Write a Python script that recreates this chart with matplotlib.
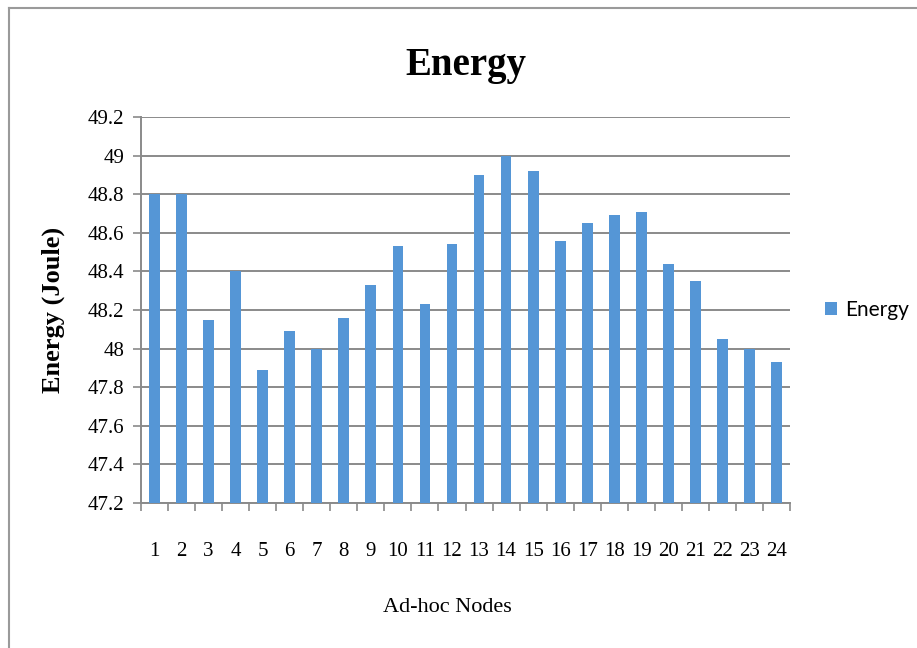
import numpy as np
import matplotlib
matplotlib.use("Agg")
import matplotlib.pyplot as plt
from matplotlib.lines import Line2D

# energy left in each ad-hoc node (Joule)
nodes = [str(i) for i in range(1, 25)]
energy = [48.80, 48.80, 48.15, 48.40, 47.89, 48.09, 48.00, 48.16,
          48.33, 48.53, 48.23, 48.54, 48.90, 49.00, 48.92, 48.56,
          48.65, 48.69, 48.71, 48.44, 48.35, 48.05, 48.00, 47.93]
y_ticks = [47.2, 47.4, 47.6, 47.8, 48.0, 48.2, 48.4, 48.6, 48.8, 49.0, 49.2]
y_tick_labels = ["47.2", "47.4", "47.6", "47.8", "48", "48.2", "48.4",
                 "48.6", "48.8", "49", "49.2"]

bar_color = "#5596D6"
grid_color = "#8a8a8a"
serif = "Liberation Serif"

fig = plt.figure(figsize=(9.17, 6.48), dpi=100)
ax = fig.add_axes([0.1538, 0.2238, 0.7077, 0.5956])

x = np.arange(len(nodes))
ax.bar(x, energy, width=0.4, color=bar_color, zorder=3, label="Energy")
ax.set_ylim(47.2, 49.2)
ax.set_xlim(-0.5, len(nodes) - 0.5)

ax.set_yticks(y_ticks)
ax.set_yticklabels(y_tick_labels, fontfamily=serif, fontsize=15)
ax.yaxis.grid(True, color=grid_color, linewidth=1.4, zorder=0)

# category labels without marks, marks between categories
ax.set_xticks(x)
ax.set_xticklabels(nodes, fontfamily=serif, fontsize=15)
ax.tick_params(axis="x", which="major", length=0, pad=28)
ax.set_xticks(np.arange(-0.5, len(nodes)), minor=True)
ax.tick_params(axis="x", which="minor", length=6, color=grid_color, width=1.2)
ax.tick_params(axis="y", length=6, color=grid_color, width=1.2, pad=6)

for side in ("top", "right"):
    ax.spines[side].set_visible(False)
for side in ("left", "bottom"):
    ax.spines[side].set_color(grid_color)
    ax.spines[side].set_linewidth(1.4)

ax.set_title("Energy", fontfamily=serif, fontweight="bold", fontsize=28, pad=30)
ax.set_ylabel("Energy (Joule)", fontfamily=serif, fontweight="bold",
              fontsize=19, labelpad=16)
ax.set_xlabel("Ad-hoc Nodes", fontfamily=serif, fontsize=16, labelpad=28)
ax.xaxis.set_label_coords(0.472, -0.245)

leg = ax.legend(loc="center left", bbox_to_anchor=(1.025, 0.5), frameon=False,
                prop={"family": "Lato", "size": 15}, handlelength=0.6,
                handleheight=0.6, handletextpad=0.35)

# outer chart border
fig.add_artist(Line2D([9 / 917, 9 / 917], [0, 1 - 8 / 648],
                      color="#9a9a9a", linewidth=1.5))
fig.add_artist(Line2D([9 / 917, 1], [1 - 8 / 648, 1 - 8 / 648],
                      color="#9a9a9a", linewidth=1.5))

fig.savefig("out.png", dpi=100)
